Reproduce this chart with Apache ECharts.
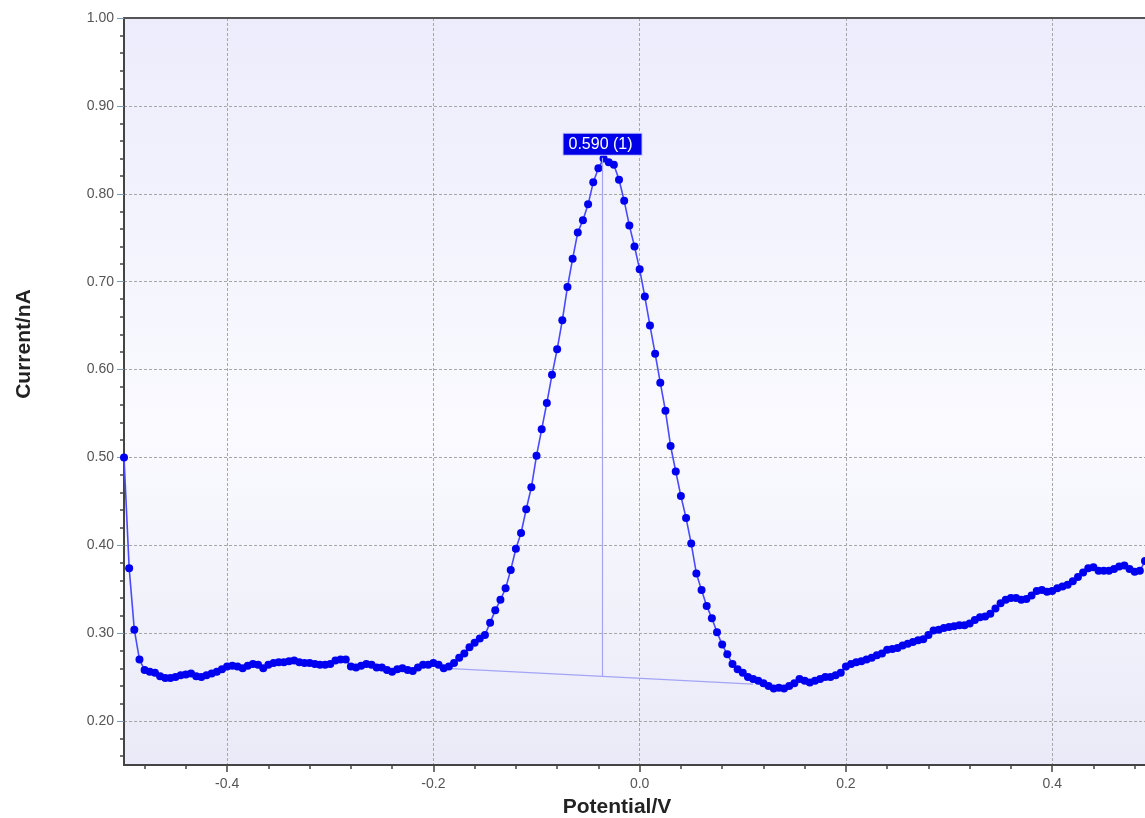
<!DOCTYPE html>
<html>
<head>
<meta charset="utf-8">
<title>Differential pulse voltammogram</title>
<script src="https://cdn.jsdelivr.net/npm/echarts@6/dist/echarts.min.js"></script>
<style>
  html, body { margin: 0; padding: 0; background: #ffffff; }
  #chart { width: 1145px; height: 818px; }
</style>
</head>
<body>
<div id="chart"></div>
<script>
// Potential sweep (V)
const potentials = [
  -0.500,-0.495,-0.490,-0.485,-0.480,-0.475,-0.470,-0.465,-0.460,-0.455,
  -0.450,-0.445,-0.440,-0.435,-0.430,-0.425,-0.420,-0.415,-0.410,-0.405,
  -0.400,-0.395,-0.390,-0.385,-0.380,-0.375,-0.370,-0.365,-0.360,-0.355,
  -0.350,-0.345,-0.340,-0.335,-0.330,-0.325,-0.320,-0.315,-0.310,-0.305,
  -0.300,-0.295,-0.290,-0.285,-0.280,-0.275,-0.270,-0.265,-0.260,-0.255,
  -0.250,-0.245,-0.240,-0.235,-0.230,-0.225,-0.220,-0.215,-0.210,-0.205,
  -0.200,-0.195,-0.190,-0.185,-0.180,-0.175,-0.170,-0.165,-0.160,-0.155,
  -0.150,-0.145,-0.140,-0.135,-0.130,-0.125,-0.120,-0.115,-0.110,-0.105,
  -0.100,-0.095,-0.090,-0.085,-0.080,-0.075,-0.070,-0.065,-0.060,-0.055,
  -0.050,-0.045,-0.040,-0.035,-0.030,-0.025,-0.020,-0.015,-0.010,-0.005,
   0.000, 0.005, 0.010, 0.015, 0.020, 0.025, 0.030, 0.035, 0.040, 0.045,
   0.050, 0.055, 0.060, 0.065, 0.070, 0.075, 0.080, 0.085, 0.090, 0.095,
   0.100, 0.105, 0.110, 0.115, 0.120, 0.125, 0.130, 0.135, 0.140, 0.145,
   0.150, 0.155, 0.160, 0.165, 0.170, 0.175, 0.180, 0.185, 0.190, 0.195,
   0.200, 0.205, 0.210, 0.215, 0.220, 0.225, 0.230, 0.235, 0.240, 0.245,
   0.250, 0.255, 0.260, 0.265, 0.270, 0.275, 0.280, 0.285, 0.290, 0.295,
   0.300, 0.305, 0.310, 0.315, 0.320, 0.325, 0.330, 0.335, 0.340, 0.345,
   0.350, 0.355, 0.360, 0.365, 0.370, 0.375, 0.380, 0.385, 0.390, 0.395,
   0.400, 0.405, 0.410, 0.415, 0.420, 0.425, 0.430, 0.435, 0.440, 0.445,
   0.450, 0.455, 0.460, 0.465, 0.470, 0.475, 0.480, 0.485, 0.490
];

// Measured current (nA)
const currents = [
  0.500,0.374,0.304,0.270,0.258,0.256,0.255,0.251,0.249,0.249,
  0.250,0.252,0.253,0.254,0.251,0.250,0.252,0.254,0.256,0.259,
  0.262,0.263,0.262,0.260,0.263,0.265,0.264,0.260,0.264,0.266,
  0.267,0.267,0.268,0.269,0.267,0.266,0.266,0.265,0.264,0.264,
  0.265,0.269,0.270,0.270,0.262,0.261,0.263,0.265,0.264,0.261,
  0.261,0.258,0.256,0.259,0.260,0.258,0.257,0.261,0.264,0.264,
  0.266,0.264,0.260,0.262,0.266,0.272,0.277,0.284,0.289,0.294,
  0.298,0.312,0.326,0.338,0.351,0.372,0.396,0.414,0.441,0.466,
  0.502,0.532,0.562,0.594,0.623,0.656,0.694,0.726,0.756,0.770,
  0.788,0.813,0.829,0.840,0.836,0.833,0.816,0.792,0.764,0.740,
  0.714,0.683,0.650,0.618,0.585,0.553,0.513,0.484,0.456,0.431,
  0.402,0.368,0.349,0.331,0.317,0.301,0.287,0.276,0.265,0.259,
  0.255,0.250,0.248,0.246,0.243,0.240,0.237,0.238,0.237,0.240,
  0.243,0.248,0.246,0.244,0.246,0.248,0.250,0.250,0.252,0.255,
  0.262,0.265,0.267,0.268,0.270,0.272,0.275,0.277,0.281,0.282,
  0.283,0.286,0.288,0.290,0.292,0.293,0.298,0.303,0.304,0.306,
  0.307,0.308,0.309,0.309,0.311,0.315,0.318,0.319,0.322,0.328,
  0.334,0.338,0.340,0.340,0.338,0.339,0.343,0.348,0.349,0.347,
  0.348,0.351,0.353,0.355,0.359,0.364,0.369,0.374,0.375,0.371,
  0.371,0.371,0.373,0.376,0.377,0.373,0.370,0.371,0.382
];

// Peak baseline end points [potential, current]
const baselineStart = [-0.187, 0.260];
const baselineEnd = [0.110, 0.242];

// Peak result
const peakPotential = -0.036;
const peakHeight = 0.590;
const peakLabel = '0.590 (1)';

// Axis tick positions
const xMinorTicks = [-0.48,-0.44,-0.36,-0.32,-0.28,-0.24,-0.16,-0.12,-0.08,-0.04,
                     0.04,0.08,0.12,0.16,0.24,0.28,0.32,0.36,0.44,0.48];
const yMinorTicks = [0.16,0.18,0.22,0.24,0.26,0.28,0.32,0.34,0.36,0.38,0.42,0.44,0.46,0.48,
                     0.52,0.54,0.56,0.58,0.62,0.64,0.66,0.68,0.72,0.74,0.76,0.78,
                     0.82,0.84,0.86,0.88,0.92,0.94,0.96,0.98];

const curve = potentials.map((p, i) => [p, currents[i]]);

// Baseline current under the peak, then the peak-height marker above it
const t = (peakPotential - baselineStart[0]) / (baselineEnd[0] - baselineStart[0]);
const baseAtPeak = baselineStart[1] + t * (baselineEnd[1] - baselineStart[1]);

const chart = echarts.init(document.getElementById('chart'), null, { renderer: 'canvas' });

const font = 'Arial, "Liberation Sans", sans-serif';

chart.setOption({
  animation: false,
  backgroundColor: '#ffffff',
  grid: {
    left: 124, top: 18, width: 1022, height: 747,
    show: true,
    borderWidth: 0,
    backgroundColor: {
      type: 'linear', x: 0, y: 0, x2: 0, y2: 1,
      colorStops: [
        { offset: 0, color: '#ececfc' },
        { offset: 0.55, color: '#fafaff' },
        { offset: 1, color: '#eaeaf8' }
      ]
    }
  },
  xAxis: [
    {
      type: 'value', min: -0.5, max: 0.49, splitNumber: 5,
      axisLine: { show: true, onZero: false, lineStyle: { color: '#444', width: 2 } },
      axisTick: { show: true, length: 7, lineStyle: { color: '#444', width: 1.5 } },
      axisLabel: {
        show: true, margin: 12, fontSize: 14, fontFamily: font, color: '#555',
        showMinLabel: false, showMaxLabel: false,
        formatter: v => v.toFixed(1)
      },
      splitLine: { show: true, lineStyle: { color: '#a6a6a6', type: [3, 2], width: 1 } }
    },
    {
      type: 'value', min: -0.5, max: 0.49, position: 'bottom',
      axisLine: { show: false, onZero: false },
      axisTick: { show: true, length: 4, customValues: xMinorTicks, lineStyle: { color: '#444', width: 1.5 } },
      axisLabel: { show: false },
      splitLine: { show: false }
    },
    {
      // frame edge along the top of the plot
      type: 'value', min: -0.5, max: 0.49, position: 'top',
      axisLine: { show: true, onZero: false, lineStyle: { color: '#555', width: 2 } },
      axisTick: { show: false }, axisLabel: { show: false }, splitLine: { show: false }
    }
  ],
  yAxis: [
    {
      type: 'value', min: 0.15, max: 1.0, splitNumber: 8,
      axisLine: { show: true, onZero: false, lineStyle: { color: '#444', width: 2 } },
      axisTick: { show: true, length: 7, lineStyle: { color: '#7d9cbc', width: 1 } },
      axisLabel: {
        show: true, margin: 10, fontSize: 14, fontFamily: font, color: '#555',
        showMinLabel: false,
        formatter: v => v.toFixed(2)
      },
      splitLine: { show: true, lineStyle: { color: '#a6a6a6', type: [3, 2], width: 1 } }
    },
    {
      type: 'value', min: 0.15, max: 1.0, position: 'left',
      axisLine: { show: false, onZero: false },
      axisTick: { show: true, length: 4, customValues: yMinorTicks, lineStyle: { color: '#444', width: 1.5 } },
      axisLabel: { show: false },
      splitLine: { show: false }
    }
  ],
  series: [
    {
      name: 'baseline',
      type: 'line',
      data: [baselineStart, baselineEnd],
      symbol: 'none',
      lineStyle: { color: '#a4a4f6', width: 1.2 },
      z: 1,
      markLine: {
        silent: true,
        symbol: ['none', 'none'],
        lineStyle: { color: '#a4a4f6', width: 1.2, type: 'solid' },
        label: {
          show: true, position: 'end', distance: 3,
          formatter: peakLabel,
          color: '#ffffff', fontSize: 16, fontFamily: font,
          backgroundColor: '#0000e8',
          borderColor: '#c8c8ff', borderWidth: 1,
          padding: [3, 9, 2, 5]
        },
        data: [[
          { coord: [peakPotential, baseAtPeak] },
          { coord: [peakPotential, baseAtPeak + peakHeight] }
        ]]
      }
    },
    {
      name: 'Current',
      type: 'line',
      data: curve,
      showAllSymbol: true,
      symbol: 'circle',
      symbolSize: 8,
      itemStyle: { color: '#0000f0', borderWidth: 0 },
      lineStyle: { color: '#4a4aff', width: 1.6 },
      z: 3
    }
  ],
  graphic: [
    {
      type: 'text', x: 617, y: 807,
      style: {
        text: 'Potential/V', font: 'bold 21px ' + font, fill: '#222',
        align: 'center', verticalAlign: 'middle'
      }
    },
    {
      type: 'text', x: 24, y: 344, rotation: Math.PI / 2,
      style: {
        text: 'Current/nA', font: 'bold 21px ' + font, fill: '#222',
        align: 'center', verticalAlign: 'middle'
      }
    }
  ]
});
</script>
</body>
</html>
